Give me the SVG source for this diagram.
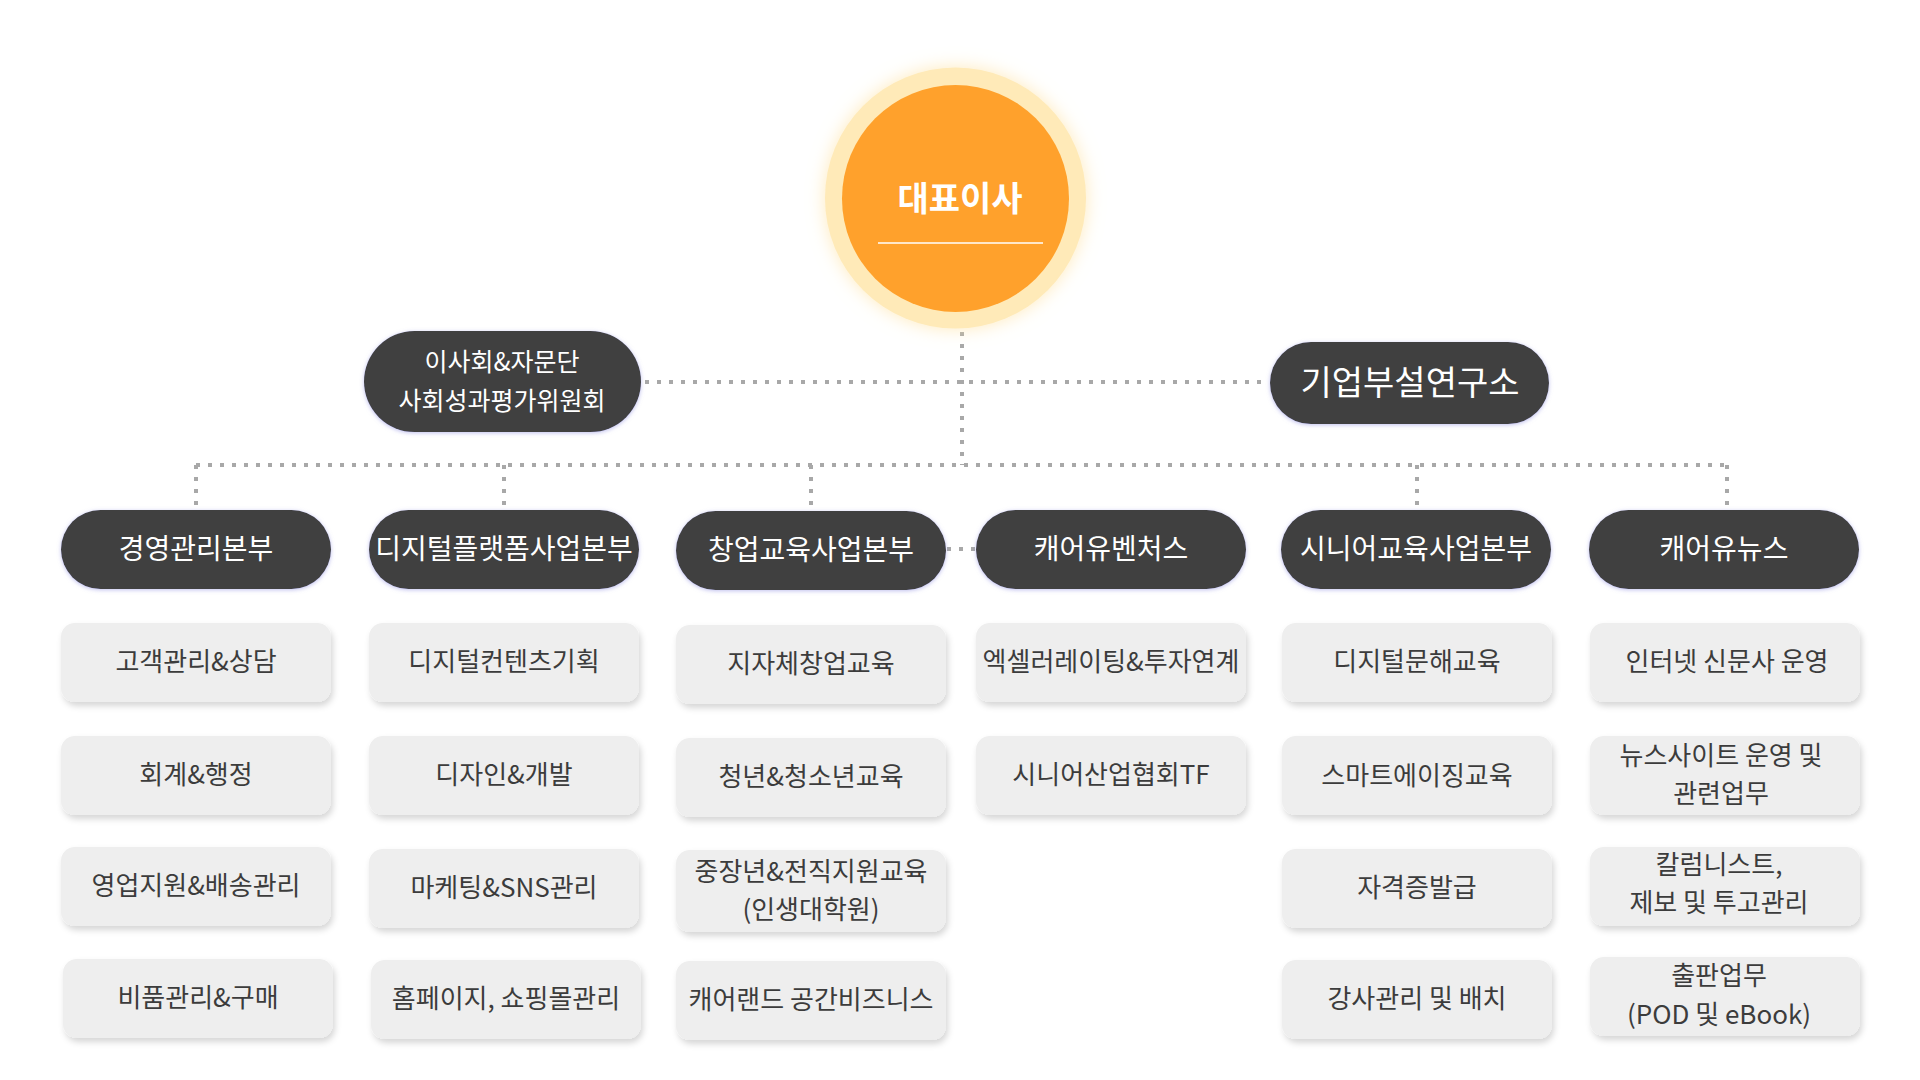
<svg xmlns="http://www.w3.org/2000/svg" width="1920" height="1080" viewBox="0 0 1920 1080">
<defs>
<filter id="glow" x="-30%" y="-30%" width="160%" height="160%">
<feDropShadow dx="0" dy="0" stdDeviation="9" flood-color="#FFE2A0" flood-opacity="0.7"/>
</filter>
<filter id="pillShadow" x="-10%" y="-20%" width="120%" height="140%">
<feDropShadow dx="0" dy="1" stdDeviation="2" flood-color="#8A8AE0" flood-opacity="0.55"/>
</filter>
<filter id="boxShadow" x="-10%" y="-20%" width="125%" height="150%">
<feDropShadow dx="2" dy="4" stdDeviation="3" flood-color="#000000" flood-opacity="0.16"/>
</filter>
</defs>
<style>
.pill{fill:#404040;filter:url(#pillShadow);}
.box{fill:#EEEEEE;filter:url(#boxShadow);}
.conn{stroke:#A8A8A8;stroke-width:4;stroke-dasharray:4 8;fill:none;}
.t{font-family:"Noto Sans CJK KR","Noto Sans",sans-serif;text-anchor:middle;dominant-baseline:central;}
.dept{fill:#FFFFFF;font-size:28px;font-weight:400;}
.sub{fill:#3C3C3C;font-size:26px;font-weight:400;}
.top{fill:#FFFFFF;font-size:25px;font-weight:400;}
</style>
<rect width="1920" height="1080" fill="#FFFFFF"/>

<g id="connectors">
<line class="conn" x1="962" y1="332" x2="962" y2="465"/>
<line class="conn" x1="645" y1="382" x2="1268" y2="382"/>
<line class="conn" x1="196" y1="465" x2="1728" y2="465"/>
<line class="conn" x1="196" y1="465" x2="196" y2="510"/>
<line class="conn" x1="504" y1="465" x2="504" y2="510"/>
<line class="conn" x1="811" y1="465" x2="811" y2="510"/>
<line class="conn" x1="1417" y1="465" x2="1417" y2="510"/>
<line class="conn" x1="1727" y1="465" x2="1727" y2="510"/>
<line class="conn" x1="947" y1="549" x2="976" y2="549"/>
</g>

<g id="ceo">
<circle cx="955.5" cy="198" r="130.5" fill="#FFEAB8" filter="url(#glow)"/>
<circle cx="955.5" cy="198.5" r="113.5" fill="#FFA12C"/>
<text class="t" x="960" y="196.5" fill="#FFFFFF" font-size="34" font-weight="700">대표이사</text>
<line x1="878" y1="243" x2="1043" y2="243" stroke="#FFFFFF" stroke-width="1.5"/>
</g>

<g id="board">
<rect class="pill" x="364" y="331" width="277" height="101" rx="50.5"/>
<text class="t top" x="502" y="359.5">이사회&amp;자문단</text>
<text class="t top" x="502" y="398.5">사회성과평가위원회</text>
</g>

<g id="lab">
<rect class="pill" x="1270" y="342" width="279" height="82" rx="41"/>
<text class="t" x="1410" y="380.5" fill="#FFFFFF" font-size="34" font-weight="400">기업부설연구소</text>
</g>

<g id="dept1">
<rect class="pill" x="61" y="510" width="270" height="79" rx="39.5"/>
<text class="t dept" x="196" y="547">경영관리본부</text>
</g>
<g id="dept2">
<rect class="pill" x="369" y="510" width="270" height="79" rx="39.5"/>
<text class="t dept" x="504" y="547">디지털플랫폼사업본부</text>
</g>
<g id="dept3">
<rect class="pill" x="676" y="511" width="270" height="79" rx="39.5"/>
<text class="t dept" x="811" y="548">창업교육사업본부</text>
</g>
<g id="dept4">
<rect class="pill" x="976" y="510" width="270" height="79" rx="39.5"/>
<text class="t dept" x="1111" y="547">캐어유벤처스</text>
</g>
<g id="dept5">
<rect class="pill" x="1281" y="510" width="270" height="79" rx="39.5"/>
<text class="t dept" x="1416" y="547">시니어교육사업본부</text>
</g>
<g id="dept6">
<rect class="pill" x="1589" y="510" width="270" height="79" rx="39.5"/>
<text class="t dept" x="1724" y="547">캐어유뉴스</text>
</g>

<g id="c1r1"><rect class="box" x="61" y="623" width="270" height="79" rx="14"/><text class="t sub" x="196" y="659.5">고객관리&amp;상담</text></g>
<g id="c1r2"><rect class="box" x="61" y="736" width="270" height="79" rx="14"/><text class="t sub" x="196" y="772.5">회계&amp;행정</text></g>
<g id="c1r3"><rect class="box" x="61" y="847" width="270" height="79" rx="14"/><text class="t sub" x="196" y="883.5">영업지원&amp;배송관리</text></g>
<g id="c1r4"><rect class="box" x="63" y="959" width="270" height="79" rx="14"/><text class="t sub" x="198" y="995.5">비품관리&amp;구매</text></g>

<g id="c2r1"><rect class="box" x="369" y="623" width="270" height="79" rx="14"/><text class="t sub" x="504" y="659.5">디지털컨텐츠기획</text></g>
<g id="c2r2"><rect class="box" x="369" y="736" width="270" height="79" rx="14"/><text class="t sub" x="504" y="772.5">디자인&amp;개발</text></g>
<g id="c2r3"><rect class="box" x="369" y="849" width="270" height="79" rx="14"/><text class="t sub" x="504" y="885.5">마케팅&amp;SNS관리</text></g>
<g id="c2r4"><rect class="box" x="371" y="960" width="270" height="79" rx="14"/><text class="t sub" x="506" y="996.5">홈페이지, 쇼핑몰관리</text></g>

<g id="c3r1"><rect class="box" x="676" y="625" width="270" height="79" rx="14"/><text class="t sub" x="811" y="661.5">지자체창업교육</text></g>
<g id="c3r2"><rect class="box" x="676" y="738" width="270" height="79" rx="14"/><text class="t sub" x="811" y="774.5">청년&amp;청소년교육</text></g>
<g id="c3r3"><rect class="box" x="676" y="850" width="270" height="82" rx="14"/><text class="t sub" x="811" y="869.5">중장년&amp;전직지원교육</text><text class="t sub" x="811" y="907.5">(인생대학원)</text></g>
<g id="c3r4"><rect class="box" x="676" y="961" width="270" height="79" rx="14"/><text class="t sub" x="811" y="997.5">캐어랜드 공간비즈니스</text></g>

<g id="c4r1"><rect class="box" x="976" y="623" width="270" height="79" rx="14"/><text class="t sub" x="1111" y="659.5">엑셀러레이팅&amp;투자연계</text></g>
<g id="c4r2"><rect class="box" x="976" y="736" width="270" height="79" rx="14"/><text class="t sub" x="1111" y="772.5">시니어산업협회TF</text></g>

<g id="c5r1"><rect class="box" x="1282" y="623" width="270" height="79" rx="14"/><text class="t sub" x="1417" y="659.5">디지털문해교육</text></g>
<g id="c5r2"><rect class="box" x="1282" y="736" width="270" height="79" rx="14"/><text class="t sub" x="1417" y="773.5">스마트에이징교육</text></g>
<g id="c5r3"><rect class="box" x="1282" y="849" width="270" height="79" rx="14"/><text class="t sub" x="1417" y="885.5">자격증발급</text></g>
<g id="c5r4"><rect class="box" x="1282" y="960" width="270" height="79" rx="14"/><text class="t sub" x="1417" y="996.5">강사관리 및 배치</text></g>

<g id="c6r1"><rect class="box" x="1590" y="623" width="270" height="79" rx="14"/><text class="t sub" x="1727" y="659.5">인터넷 신문사 운영</text></g>
<g id="c6r2"><rect class="box" x="1590" y="736" width="270" height="79" rx="14"/><text class="t sub" x="1721" y="753.5">뉴스사이트 운영 및</text><text class="t sub" x="1721" y="791.5">관련업무</text></g>
<g id="c6r3"><rect class="box" x="1590" y="847" width="270" height="79" rx="14"/><text class="t sub" x="1719" y="862.5">칼럼니스트,</text><text class="t sub" x="1719" y="900.5">제보 및 투고관리</text></g>
<g id="c6r4"><rect class="box" x="1590" y="957" width="270" height="79" rx="14"/><text class="t sub" x="1719" y="973.5">출판업무</text><text class="t sub" x="1719" y="1012.5">(POD 및 eBook)</text></g>
</svg>
